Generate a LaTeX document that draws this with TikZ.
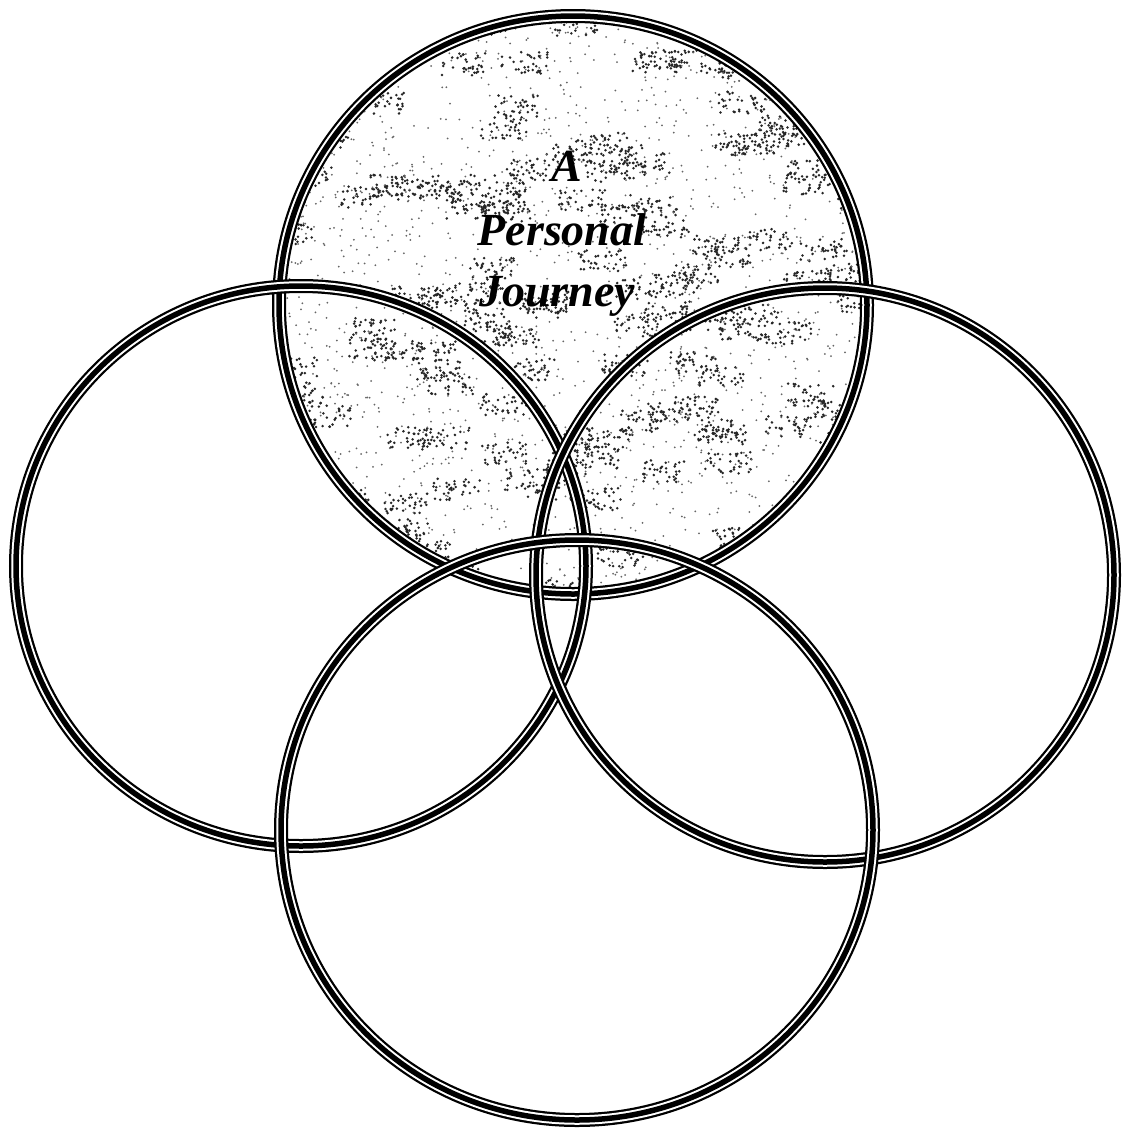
\documentclass[tikz,border=0pt]{standalone}
\usepackage{fontspec}
\setmainfont{Liberation Serif}
\begin{document}
\begin{tikzpicture}[x=1pt,y=-1pt,
  ringout/.style={draw=black,line width=14pt},
  ringmid/.style={draw=white,line width=9.5pt},
  ringin/.style={draw=black,line width=5.5pt},
  label/.style={font=\bfseries\itshape\fontsize{46}{52}\selectfont,text=black,inner sep=0pt}]
\useasboundingbox (0,0) rectangle (1123,1128);
\coordinate (ctop) at (573,305);
\coordinate (cleft) at (301,566);
\coordinate (cright) at (825,575);
\coordinate (cbot) at (577,830);
% textured fill of the top circle
\begin{scope}
  \clip (ctop) ellipse [x radius=294, y radius=289];
  \fill[white] (ctop) ellipse [x radius=294, y radius=289];
  \pgfmathsetseed{7}
  \foreach \i in {1,...,130}{
    \pgfmathsetmacro{\cx}{573+rand*290}
    \pgfmathsetmacro{\cy}{305+rand*290}
    \foreach \j in {1,...,34}{
      \fill[black!85] ({\cx+rand*24},{\cy+rand*11}) circle (1.4);
    }
  }
  \foreach \i in {1,...,1800}{
    \fill[black!60] ({573+rand*294},{305+rand*290}) circle (1.0);
  }
\end{scope}
% rings
\foreach \c/\rx/\ry in {ctop/294/289, cleft/285/280, cright/289/287, cbot/296/290}{
  \draw[ringout] (\c) ellipse [x radius=\rx, y radius=\ry];
  \draw[ringmid] (\c) ellipse [x radius=\rx, y radius=\ry];
  \draw[ringin] (\c) ellipse [x radius=\rx, y radius=\ry];
}
\node[label] (ta) at (567,166) {A};
\node[label] (tp) at (562,230) {Personal};
\node[label] (tj) at (557,296) {Journey};
\end{tikzpicture}
\end{document}
